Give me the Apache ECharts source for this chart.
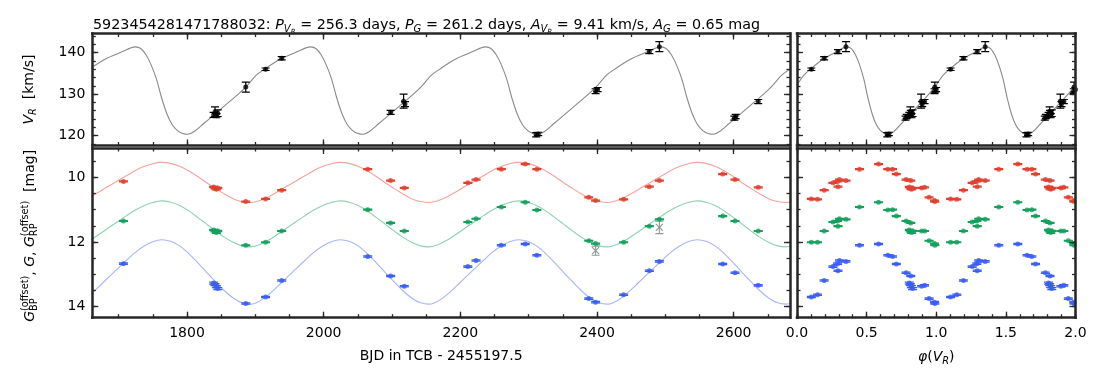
<!DOCTYPE html>
<html><head><meta charset="utf-8">
<script src="https://cdn.jsdelivr.net/npm/echarts@6/dist/echarts.min.js"></script>
<style>html,body{margin:0;padding:0;background:#fff}#c{width:1102px;height:383px}</style>
</head><body><div id="c"></div>
<script>
// ---------------- data ----------------
const P_RV = 256.3, T0_RV = 1888.6;   // RV period and phase zero (days)
const P_G = 261.2, T0_G = 1763;       // photometric period and reference epoch

// radial velocity epochs (BJD-2455197.5), values and errors (km/s)
const rvTime = [1839, 1841, 1843, 1845, 1886, 1915, 1938.6, 2098, 2117, 2119, 2311, 2314, 2398, 2401, 2476.6, 2491.3, 2601, 2603, 2636];
const rvVal  = [125.0, 125.7, 124.8, 125.4, 131.7, 136.0, 138.65, 125.6, 128.3, 127.6, 120.2, 120.4, 130.7, 131.1, 140.25, 141.45, 124.2, 124.6, 128.2];
const rvErr  = [0.6, 1.2, 0.5, 0.8, 1.2, 0.3, 0.4, 0.5, 1.7, 0.6, 0.5, 0.4, 0.6, 0.5, 0.5, 1.2, 0.5, 0.5, 0.5];

// RV model curve, one cycle in phase
const rvModelPhase = [0.00, 0.05, 0.10, 0.15, 0.20, 0.25, 0.30, 0.33, 0.36, 0.39, 0.42, 0.45, 0.48, 0.51, 0.54, 0.57, 0.60, 0.63, 0.66, 0.70, 0.75, 0.80, 0.85, 0.90, 0.95, 1.00];
const rvModelVal   = [132.2, 134.6, 136.1, 137.5, 138.7, 139.6, 140.5, 141.1, 141.4, 141.0, 139.5, 137.0, 133.6, 129.0, 125.2, 122.6, 121.2, 120.5, 120.3, 121.1, 122.9, 124.7, 126.5, 128.3, 130.1, 132.2];

// photometric epochs and magnitudes
const phTime = [1707, 1839, 1841, 1843, 1845, 1886, 1915, 1938.6, 2064.5, 2098, 2118, 2211, 2223, 2260, 2295, 2312, 2388, 2398, 2439, 2476.6, 2491.3, 2584, 2602, 2636];
const magRP  = [10.13, 10.30, 10.34, 10.37, 10.33, 10.75, 10.67, 10.40, 9.75, 10.10, 10.33, 10.17, 10.07, 9.75, 9.59, 9.75, 10.62, 10.72, 10.68, 10.29, 10.10, 9.90, 10.07, 10.31];
const magG   = [11.35, 11.63, 11.67, 11.71, 11.66, 12.10, 12.01, 11.66, 11.00, 11.41, 11.66, 11.38, 11.28, 10.92, 10.77, 11.01, 11.96, 12.05, 12.01, 11.51, 11.30, 11.20, 11.35, 11.66];
const magBP  = [12.67, 13.27, 13.32, 13.38, 13.44, 13.90, 13.70, 13.19, 12.45, 13.05, 13.37, 12.76, 12.57, 12.10, 12.06, 12.41, 13.75, 13.86, 13.63, 12.89, 12.60, 12.68, 12.95, 13.34];
const errRP  = [0.015, 0.02, 0.02, 0.02, 0.02, 0.015, 0.015, 0.015, 0.015, 0.015, 0.015, 0.015, 0.015, 0.015, 0.015, 0.015, 0.015, 0.015, 0.015, 0.015, 0.015, 0.015, 0.015, 0.015];
const errG   = [0.012, 0.02, 0.02, 0.02, 0.02, 0.012, 0.012, 0.012, 0.012, 0.012, 0.012, 0.012, 0.012, 0.012, 0.012, 0.012, 0.012, 0.012, 0.012, 0.012, 0.012, 0.012, 0.012, 0.012];
const errBP  = [0.02, 0.03, 0.03, 0.03, 0.03, 0.02, 0.02, 0.02, 0.02, 0.02, 0.02, 0.02, 0.02, 0.02, 0.02, 0.02, 0.02, 0.02, 0.02, 0.02, 0.02, 0.02, 0.02, 0.02];

// rejected G points (grey)
const rejTime = [2398, 2491.3];
const rejG    = [12.27, 11.55];
const rejErr  = [0.14, 0.19];

// photometric model curves, one cycle in phase of P_G
const photModelPhase = [0, 0.05, 0.1, 0.15, 0.2, 0.25, 0.3, 0.35, 0.4, 0.45, 0.5, 0.55, 0.6, 0.65, 0.7, 0.75, 0.8, 0.85, 0.9, 0.95, 1];
const modelBP = [11.93, 11.98, 12.12, 12.35, 12.63, 12.93, 13.22, 13.50, 13.73, 13.88, 13.92, 13.82, 13.62, 13.37, 13.10, 12.84, 12.58, 12.33, 12.13, 11.99, 11.93];
const modelG  = [10.73, 10.77, 10.87, 11.03, 11.23, 11.44, 11.65, 11.85, 12.01, 12.12, 12.15, 12.08, 11.94, 11.76, 11.57, 11.38, 11.20, 11.02, 10.88, 10.78, 10.73];
const modelRP = [9.54, 9.57, 9.66, 9.80, 9.97, 10.16, 10.34, 10.51, 10.66, 10.75, 10.78, 10.72, 10.60, 10.45, 10.28, 10.12, 9.96, 9.80, 9.67, 9.58, 9.54];

// axis ticks
const timeMajor = [1800, 2000, 2200, 2400, 2600];
const rvMajor   = [120, 130, 140];
const magMajor  = [10, 12, 14];
const phMajor   = [0, 0.5, 1.0, 1.5, 2.0];

// ---------------- layout / style ----------------
const FONT = 'DejaVu Sans';
const SPINE = '#262626';
const C = {rp: '#e0402f', g: '#13a05b', bp: '#3b5cf6', rpL: '#f4a49c', gL: '#8dd2af', bpL: '#a8b5f8', model: '#8a8a8a', rej: '#8e9a93'};
const LAY = {lx: 92.3, lw: 697.7, rx: 797, rw: 278.5, ty: 33.5, th: 112, by: 148, bh: 169.7};
const timeRange = [1661.4, 2682.5], rvRange = [117.6, 144.63], magRange = [9.095, 14.34], phRange = [0, 2];

function steps(a, b, s) { const r = []; for (let v = a; v <= b + 1e-9; v += s) r.push(+v.toFixed(6)); return r; }
const timeMinor = steps(1700, 2650, 50), rvMinor = steps(118, 144, 2), magMinor = steps(9.5, 14, 0.5), phMinor = steps(0, 2, 0.1);

const xAxes = [], yAxes = [];
function addAxes(list, g, posMain, posOther, range, major, minor, fmt, inverse, margin) {
  const mk = (pos, vals, len, line, lab) => ({
    type: 'value', gridIndex: g, position: pos, min: range[0], max: range[1], inverse: !!inverse,
    axisLine: {show: line, onZero: false, lineStyle: {color: SPINE, width: 2.5, cap: 'square'}},
    axisTick: {show: true, inside: true, length: len, customValues: vals, lineStyle: {color: SPINE, width: 1.3}},
    axisLabel: lab ? {show: true, customValues: vals, formatter: fmt, fontFamily: FONT, fontSize: 14, color: '#000', margin: margin} : {show: false},
    splitLine: {show: false}, minorTick: {show: false}, minorSplitLine: {show: false},
    axisPointer: {show: false}, silent: true, z: 5
  });
  list.push(mk(posMain, major, 6, true, !!fmt));
  list.push(mk(posMain, minor, 3.5, false, false));
  list.push(mk(posOther, major, 6, true, false));
  list.push(mk(posOther, minor, 3.5, false, false));
}
const fInt = v => String(Math.round(v));
const fPh = v => v.toFixed(1);
// grid 0: RV vs time, grid 1: mag vs time, grid 2: RV vs phase, grid 3: mag vs phase
addAxes(xAxes, 0, 'bottom', 'top', timeRange, timeMajor, timeMinor, null, false, 9);
addAxes(yAxes, 0, 'left', 'right', rvRange, rvMajor, rvMinor, fInt, false, 7);
addAxes(xAxes, 1, 'bottom', 'top', timeRange, timeMajor, timeMinor, fInt, false, 9);
addAxes(yAxes, 1, 'left', 'right', magRange, magMajor, magMinor, fInt, true, 7);
addAxes(xAxes, 2, 'bottom', 'top', phRange, phMajor, phMinor, null, false, 9);
addAxes(yAxes, 2, 'left', 'right', rvRange, rvMajor, rvMinor, null, false, 7);
addAxes(xAxes, 3, 'bottom', 'top', phRange, phMajor, phMinor, fPh, false, 9);
addAxes(yAxes, 3, 'left', 'right', magRange, magMajor, magMinor, null, true, 7);

function tile(phArr, valArr, t0, p, k0, k1) {
  const out = [];
  for (let k = k0; k <= k1; k++) for (let i = 0; i < phArr.length - 1; i++) out.push([t0 + (k + phArr[i]) * p, valArr[i]]);
  out.push([t0 + (k1 + phArr[phArr.length - 1]) * p, valArr[valArr.length - 1]]);
  return out;
}
const phaseOf = t => { let f = ((t - T0_RV) / P_RV) % 1; return f < 0 ? f + 1 : f; };
const pts = (ts, vs, es) => ts.map((t, i) => [t, vs[i], es[i]]);
const fold = (ts, vs, es) => { const o = []; ts.forEach((t, i) => { const f = phaseOf(t); o.push([f, vs[i], es[i]]); o.push([f + 1, vs[i], es[i]]); }); return o; };

function errSeries(g, data, color, cw, lw) {
  return {type: 'custom', xAxisIndex: 4 * g, yAxisIndex: 4 * g, data: data, clip: true, z: 3, silent: true,
    renderItem: (params, api) => {
      const x = api.value(0), y = api.value(1), e = api.value(2);
      const a = api.coord([x, y + e]), b = api.coord([x, y - e]);
      const st = {stroke: color, lineWidth: lw, fill: null};
      return {type: 'group', children: [
        {type: 'line', shape: {x1: a[0], y1: a[1], x2: b[0], y2: b[1]}, style: st},
        {type: 'line', shape: {x1: a[0] - cw, y1: a[1], x2: a[0] + cw, y2: a[1]}, style: st},
        {type: 'line', shape: {x1: b[0] - cw, y1: b[1], x2: b[0] + cw, y2: b[1]}, style: st}]};
    }};
}
function dotSeries(g, data, color, size) {
  return {type: 'scatter', xAxisIndex: 4 * g, yAxisIndex: 4 * g, data: data.map(d => [d[0], d[1]]), symbol: 'circle', symbolSize: size, itemStyle: {color: color}, z: 4, silent: true, clip: true};
}
function lineSeries(g, data, color, w) {
  return {type: 'line', xAxisIndex: 4 * g, yAxisIndex: 4 * g, data: data, showSymbol: false, symbol: 'none', smooth: 0.35, lineStyle: {color: color, width: w}, z: 2, silent: true, clip: true};
}

const series = [];
// top-left
series.push(lineSeries(0, tile(rvModelPhase, rvModelVal, T0_RV, P_RV, -1, 3), C.model, 1.1));
const rvPts = pts(rvTime, rvVal, rvErr);
series.push(errSeries(0, rvPts, '#000', 4, 1.2));
series.push(dotSeries(0, rvPts, '#000', 5));
// bottom-left
series.push(lineSeries(1, tile(photModelPhase, modelRP, T0_G, P_G, -1, 3), C.rpL, 1.1));
series.push(lineSeries(1, tile(photModelPhase, modelG, T0_G, P_G, -1, 3), C.gL, 1.1));
series.push(lineSeries(1, tile(photModelPhase, modelBP, T0_G, P_G, -1, 3), C.bpL, 1.1));
[[magRP, errRP, C.rp], [magG, errG, C.g], [magBP, errBP, C.bp]].forEach(([m, e, c]) => {
  const d = pts(phTime, m, e);
  series.push(errSeries(1, d, c, 4.5, 1.3));
  series.push(dotSeries(1, d, c, 5));
});
series.push({type: 'custom', xAxisIndex: 4, yAxisIndex: 4, data: pts(rejTime, rejG, rejErr), clip: true, z: 4, silent: true,
  renderItem: (params, api) => {
    const x = api.value(0), y = api.value(1), e = api.value(2);
    const c = api.coord([x, y]), a = api.coord([x, y + e]), b = api.coord([x, y - e]);
    const st = {stroke: C.rej, lineWidth: 1.1, fill: null}, cw = 4, m = 3.5;
    return {type: 'group', children: [
      {type: 'line', shape: {x1: a[0], y1: a[1], x2: b[0], y2: b[1]}, style: st},
      {type: 'line', shape: {x1: a[0] - cw, y1: a[1], x2: a[0] + cw, y2: a[1]}, style: st},
      {type: 'line', shape: {x1: b[0] - cw, y1: b[1], x2: b[0] + cw, y2: b[1]}, style: st},
      {type: 'line', shape: {x1: c[0] - m, y1: c[1] - m, x2: c[0] + m, y2: c[1] + m}, style: st},
      {type: 'line', shape: {x1: c[0] - m, y1: c[1] + m, x2: c[0] + m, y2: c[1] - m}, style: st}]};
  }});
// top-right
series.push(lineSeries(2, tile(rvModelPhase, rvModelVal, 0, 1, 0, 1), C.model, 1.1));
const rvFold = fold(rvTime, rvVal, rvErr);
series.push(errSeries(2, rvFold, '#000', 4, 1.2));
series.push(dotSeries(2, rvFold, '#000', 5));
// bottom-right
[[magRP, errRP, C.rp], [magG, errG, C.g], [magBP, errBP, C.bp]].forEach(([m, e, c]) => {
  const d = fold(phTime, m, e);
  series.push(errSeries(3, d, c, 4.5, 1.3));
  series.push(dotSeries(3, d, c, 5));
});

// ---------------- math-like text labels ----------------
const cvs = document.createElement('canvas').getContext('2d');
function tw(t, size, it) { cvs.font = (it ? 'italic ' : '') + size + 'px "' + FONT + '"'; return cvs.measureText(t).width; }
function mathLabel(segs, F) {
  let x = 0, hold = null; const kids = [];
  for (const sg of segs) {
    const size = F * (sg.s || 1);
    const w = tw(sg.t, size, sg.it);
    const bx = hold ? hold.x : x;
    kids.push({type: 'text', x: bx, y: (sg.dy || 0) * F - 0.32 * size, silent: true,
      style: {text: sg.t, fontFamily: FONT, fontSize: size, fontStyle: sg.it ? 'italic' : 'normal', fill: '#000', align: 'left', verticalAlign: 'middle', textAlign: 'left', textVerticalAlign: 'middle'}});
    if (sg.stack) hold = {x: bx, w: w};
    else if (hold) { x = hold.x + Math.max(hold.w, w); hold = null; }
    else x += w;
  }
  return {kids, width: x};
}
const SUB = 0.22, SUBSUB = 0.36, SUP = -0.40;
const titleSegs = [
  {t: '5923454281471788032: '}, {t: 'P', it: 1}, {t: 'V', it: 1, s: 0.7, dy: SUB}, {t: 'R', it: 1, s: 0.5, dy: SUBSUB},
  {t: ' = 256.3 days, '}, {t: 'P', it: 1}, {t: 'G', it: 1, s: 0.7, dy: SUB},
  {t: ' = 261.2 days, '}, {t: 'A', it: 1}, {t: 'V', it: 1, s: 0.7, dy: SUB}, {t: 'R', it: 1, s: 0.5, dy: SUBSUB},
  {t: ' = 9.41 km/s, '}, {t: 'A', it: 1}, {t: 'G', it: 1, s: 0.7, dy: SUB}, {t: ' = 0.65 mag'}];
const yTopSegs = [{t: 'V', it: 1}, {t: 'R', it: 1, s: 0.7, dy: SUB}, {t: '  [km/s]'}];
const yBotSegs = [{t: 'G', it: 1}, {t: 'BP', s: 0.7, dy: SUB, stack: 1}, {t: '(offset)', s: 0.7, dy: SUP}, {t: ', '},
  {t: 'G', it: 1}, {t: ', '}, {t: 'G', it: 1}, {t: 'RP', s: 0.7, dy: SUB, stack: 1}, {t: '(offset)', s: 0.7, dy: SUP}, {t: '  [mag]'}];
const xLeftSegs = [{t: 'BJD in TCB - 2455197.5'}];
const xRightSegs = [{t: 'φ', it: 1}, {t: '('}, {t: 'V', it: 1}, {t: 'R', it: 1, s: 0.7, dy: SUB}, {t: ')'}];

const F = 14;
const tl = mathLabel(titleSegs, 14.3), yt = mathLabel(yTopSegs, F), yb = mathLabel(yBotSegs, F), xl = mathLabel(xLeftSegs, F), xr = mathLabel(xRightSegs, F);
const graphics = [
  {type: 'group', x: 93, y: 29.5, children: tl.kids},
  {type: 'group', x: 34, y: LAY.ty + LAY.th / 2 + yt.width / 2, rotation: Math.PI / 2, children: yt.kids},
  {type: 'group', x: 34.5, y: LAY.by + LAY.bh / 2 + yb.width / 2 + 3, rotation: Math.PI / 2, children: yb.kids},
  {type: 'group', x: LAY.lx + LAY.lw / 2 - xl.width / 2, y: 361, children: xl.kids},
  {type: 'group', x: LAY.rx + LAY.rw / 2 - xr.width / 2, y: 362, children: xr.kids}
];

const chart = echarts.init(document.getElementById('c'), null, {renderer: 'canvas', devicePixelRatio: 1});
chart.setOption({
  animation: false,
  backgroundColor: '#fff',
  grid: [
    {left: LAY.lx, top: LAY.ty, width: LAY.lw, height: LAY.th},
    {left: LAY.lx, top: LAY.by, width: LAY.lw, height: LAY.bh},
    {left: LAY.rx, top: LAY.ty, width: LAY.rw, height: LAY.th},
    {left: LAY.rx, top: LAY.by, width: LAY.rw, height: LAY.bh}
  ],
  xAxis: xAxes, yAxis: yAxes, series: series, graphic: graphics
});
</script></body></html>
